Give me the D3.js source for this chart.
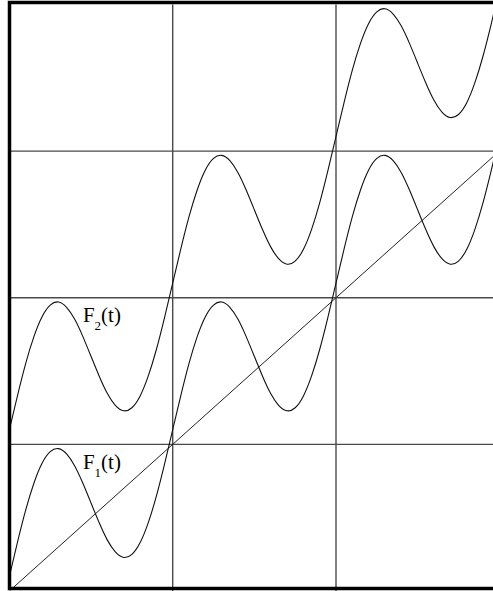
<!DOCTYPE html>
<html>
<head>
<meta charset="utf-8">
<script src="https://cdn.jsdelivr.net/npm/d3@7"></script>
<style>
  body { margin: 0; background: #fff; }
  svg { display: block; }
</style>
</head>
<body>
<script>
// sample points, t = 0, 0.05, ... 3
const tValues = d3.range(61).map((i) => i / 20);

const f1Values = [
  0.10, 0.335, 0.553, 0.735, 0.871, 0.95, 0.971, 0.935, 0.853, 0.735,
  0.60, 0.465, 0.347, 0.265, 0.229, 0.25, 0.329, 0.465, 0.647, 0.865,
  1.10, 1.335, 1.553, 1.735, 1.871, 1.95, 1.971, 1.935, 1.853, 1.735,
  1.60, 1.465, 1.347, 1.265, 1.229, 1.25, 1.329, 1.465, 1.647, 1.865,
  2.10, 2.335, 2.553, 2.735, 2.871, 2.95, 2.971, 2.935, 2.853, 2.735,
  2.60, 2.465, 2.347, 2.265, 2.229, 2.25, 2.329, 2.465, 2.647, 2.865,
  3.10
];

const f2Values = [
  1.10, 1.335, 1.553, 1.735, 1.871, 1.95, 1.971, 1.935, 1.853, 1.735,
  1.60, 1.465, 1.347, 1.265, 1.229, 1.25, 1.329, 1.465, 1.647, 1.865,
  2.10, 2.335, 2.553, 2.735, 2.871, 2.95, 2.971, 2.935, 2.853, 2.735,
  2.60, 2.465, 2.347, 2.265, 2.229, 2.25, 2.329, 2.465, 2.647, 2.865,
  3.10, 3.335, 3.553, 3.735, 3.871, 3.95, 3.971, 3.935, 3.853, 3.735,
  3.60, 3.465, 3.347, 3.265, 3.229, 3.25, 3.329, 3.465, 3.647, 3.865,
  4.10
];

const diagonal = [[0, 0], [3, 3]];
const xGrid = [1, 2];
const yGrid = [1, 2, 3];

const labels = [
  { name: 'F', sub: '1', t: 0.45, v: 0.832 },
  { name: 'F', sub: '2', t: 0.45, v: 1.835 }
];

const width = 493, height = 591;

const x = d3.scaleLinear().domain([0, 3]).range([9.4, 499.3]);
const y = d3.scaleLinear().domain([0, 4]).range([591, 4.5]);

const svg = d3.select('body').append('svg')
  .attr('width', width)
  .attr('height', height);

svg.append('defs').append('clipPath').attr('id', 'plot')
  .append('rect')
  .attr('x', x(0)).attr('y', y(4))
  .attr('width', x(3) - x(0)).attr('height', y(0) - y(4));

// grid
svg.append('g').selectAll('line').data(xGrid).join('line')
  .attr('x1', (d) => x(d)).attr('x2', (d) => x(d))
  .attr('y1', y(4)).attr('y2', y(0))
  .attr('stroke', '#4a4a4a').attr('stroke-width', 1.4);

svg.append('g').selectAll('line').data(yGrid).join('line')
  .attr('x1', x(0)).attr('x2', x(3))
  .attr('y1', (d) => y(d)).attr('y2', (d) => y(d))
  .attr('stroke', '#4a4a4a').attr('stroke-width', 1.4);

const plot = svg.append('g').attr('clip-path', 'url(#plot)');

plot.append('path')
  .datum(diagonal)
  .attr('d', d3.line().x((d) => x(d[0])).y((d) => y(d[1])))
  .attr('fill', 'none')
  .attr('stroke', '#222')
  .attr('stroke-width', 1);

const curve = d3.line()
  .x((d) => x(d[0]))
  .y((d) => y(d[1]))
  .curve(d3.curveNatural);

[f1Values, f2Values].forEach((vals) => {
  plot.append('path')
    .datum(tValues.map((t, i) => [t, vals[i]]))
    .attr('d', curve)
    .attr('fill', 'none')
    .attr('stroke', '#111')
    .attr('stroke-width', 1.1);
});

// labels
const text = svg.append('g').selectAll('text').data(labels).join('text')
  .attr('x', (d) => x(d.t))
  .attr('y', (d) => y(d.v))
  .attr('font-family', '"Liberation Serif", "Times New Roman", serif')
  .attr('font-size', 21)
  .attr('fill', '#000');

text.append('tspan').text((d) => d.name);
text.append('tspan').attr('font-size', 13).attr('dy', 8).text((d) => d.sub);
text.append('tspan').attr('dy', -8).text('(t)');

// frame
svg.append('rect')
  .attr('x', 9.5).attr('y', 2.5)
  .attr('width', 495).attr('height', 586)
  .attr('fill', 'none')
  .attr('stroke', '#000')
  .attr('stroke-width', 3.5);
</script>
</body>
</html>
